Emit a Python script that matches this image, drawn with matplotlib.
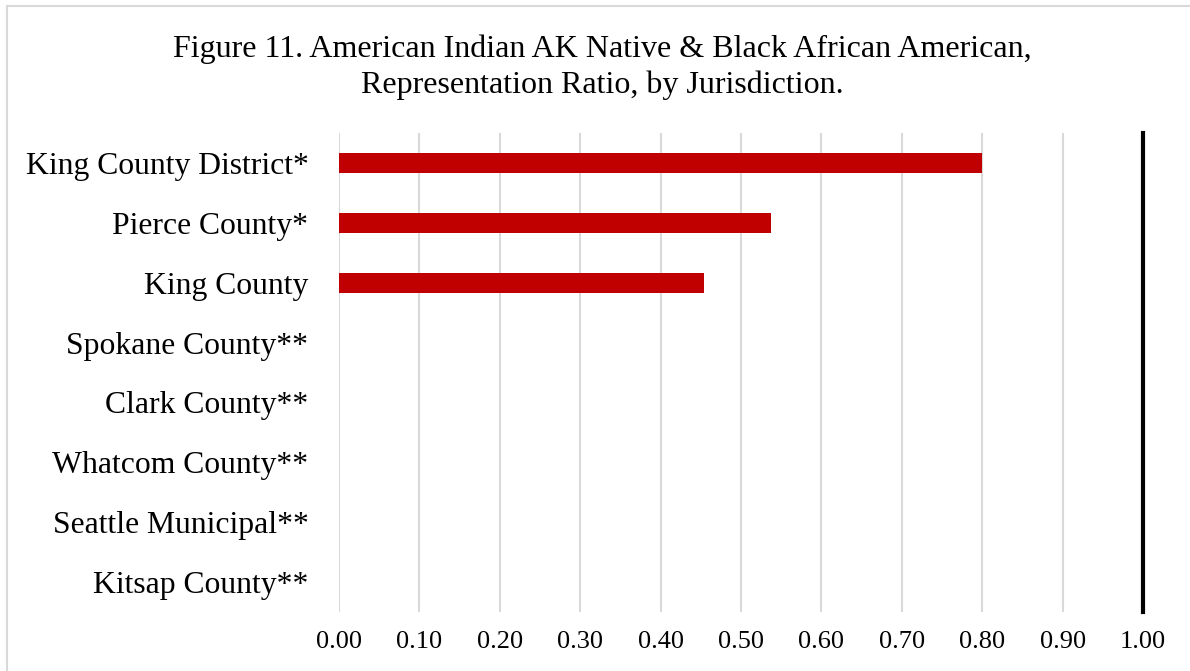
import matplotlib
matplotlib.use('Agg')
import matplotlib.pyplot as plt
from matplotlib.lines import Line2D

# Data
jurisdictions = ['King County District*', 'Pierce County*', 'King County',
                 'Spokane County**', 'Clark County**', 'Whatcom County**',
                 'Seattle Municipal**', 'Kitsap County**']
ratios = [0.80, 0.537, 0.454, 0, 0, 0, 0, 0]
parity = 1.0
xticks = [0.0, 0.1, 0.2, 0.3, 0.4, 0.5, 0.6, 0.7, 0.8, 0.9, 1.0]

plt.rcParams['font.family'] = ['Liberation Serif', 'DejaVu Serif']

W, H, dpi = 1190, 671, 100
fig = plt.figure(figsize=(W / dpi, H / dpi), dpi=dpi)
ax = fig.add_axes([339 / W, 59 / H, 804 / W, 479 / H])

ypos = list(range(len(jurisdictions)))
ax.barh(ypos, ratios, height=0.33, color='#C00000', zorder=3)
ax.axvline(parity, color='black', lw=3, zorder=4, clip_on=False)

ax.set_xlim(0, 1.0)
ax.set_ylim(len(jurisdictions) - 0.5, -0.5)
ax.set_xticks(xticks)
ax.set_xticklabels([f'{v:.2f}' for v in xticks], fontsize=19)
ax.set_yticks(ypos)
ax.set_yticklabels(jurisdictions, fontsize=22.8)
ax.tick_params(axis='x', length=0, pad=14)
ax.tick_params(axis='y', length=0, pad=22)
ax.grid(axis='x', color='#D9D9D9', lw=1.5, zorder=0)
for s in ax.spines.values():
    s.set_visible(False)

fig.text(602 / W, 1 - 67.5 / H,
         'Figure 11. American Indian AK Native & Black African American,\n'
         'Representation Ratio, by Jurisdiction.',
         ha='center', va='center', fontsize=23, linespacing=1.27)

# light border on left and top edge
fig.add_artist(Line2D([6.5 / W, 6.5 / W], [0, 1 - 5.5 / H], color='#D9D9D9', lw=1.5,
                      transform=fig.transFigure))
fig.add_artist(Line2D([6.5 / W, 1], [1 - 5.5 / H, 1 - 5.5 / H], color='#D9D9D9', lw=1.5,
                      transform=fig.transFigure))

fig.savefig('out.png', dpi=dpi)
